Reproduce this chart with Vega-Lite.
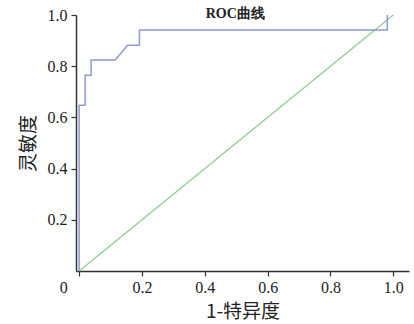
{
  "$schema": "https://vega.github.io/schema/vega-lite/v6.json",
  "autosize": "none",
  "width": 333,
  "height": 256,
  "padding": {"left": 76, "top": 15, "right": 5, "bottom": 53},
  "background": "white",
  "config": {
    "view": {"stroke": null},
    "axis": {
      "labelFont": "Liberation Serif",
      "labelFontSize": 16,
      "labelColor": "#222",
      "titleFont": "Noto Sans CJK SC",
      "titleFontSize": 19,
      "titleFontWeight": "normal",
      "titleColor": "#222",
      "domainColor": "#333",
      "domainWidth": 1.5,
      "tickColor": "#333",
      "tickWidth": 1.2,
      "tickSize": 5,
      "grid": false
    }
  },
  "datasets": {
    "roc": [
      {"fpr": 0, "tpr": 0, "k": 0},
      {"fpr": 0, "tpr": 0.647, "k": 1},
      {"fpr": 0.019, "tpr": 0.647, "k": 2},
      {"fpr": 0.019, "tpr": 0.765, "k": 3},
      {"fpr": 0.038, "tpr": 0.765, "k": 4},
      {"fpr": 0.038, "tpr": 0.824, "k": 5},
      {"fpr": 0.115, "tpr": 0.824, "k": 6},
      {"fpr": 0.154, "tpr": 0.882, "k": 7},
      {"fpr": 0.192, "tpr": 0.882, "k": 8},
      {"fpr": 0.192, "tpr": 0.941, "k": 9},
      {"fpr": 0.981, "tpr": 0.941, "k": 10},
      {"fpr": 0.981, "tpr": 1.0, "k": 11}
    ],
    "diag": [
      {"fpr": 0, "tpr": 0},
      {"fpr": 1, "tpr": 1}
    ],
    "label": [
      {"fpr": 0.497, "tpr": 1.0, "text": "ROC曲线"}
    ]
  },
  "layer": [
    {
      "data": {"name": "diag"},
      "mark": {"type": "line", "color": "#8fce8f", "strokeWidth": 1.3, "clip": false},
      "encoding": {
        "x": {
          "field": "fpr", "type": "quantitative",
          "scale": {"domain": [-0.01, 1.05], "nice": false, "zero": false},
          "axis": {
            "title": "1-特异度",
            "values": [0, 0.2, 0.4, 0.6, 0.8, 1.0],
            "labelExpr": "datum.value == 0 ? '0' : format(datum.value, '.1f')",
            "labelOffset": {"condition": {"test": "datum.value == 0", "value": -16}, "value": 0},
            "labelPadding": 3,
            "titlePadding": 7
          }
        },
        "y": {
          "field": "tpr", "type": "quantitative",
          "scale": {"domain": [0, 1.0], "nice": false},
          "axis": {
            "title": "灵敏度",
            "values": [0.2, 0.4, 0.6, 0.8, 1.0],
            "format": ".1f",
            "labelPadding": 4,
            "titlePadding": 9
          }
        }
      }
    },
    {
      "data": {"name": "roc"},
      "mark": {"type": "line", "color": "#8c9bd2", "strokeWidth": 1.5, "clip": false},
      "encoding": {
        "x": {"field": "fpr", "type": "quantitative"},
        "y": {"field": "tpr", "type": "quantitative"},
        "order": {"field": "k", "type": "quantitative"}
      }
    },
    {
      "data": {"name": "label"},
      "mark": {"type": "text", "font": "Liberation Serif", "fontSize": 14, "fontWeight": "bold", "color": "#222", "baseline": "middle", "align": "center", "dy": -1, "clip": false},
      "encoding": {
        "x": {"field": "fpr", "type": "quantitative"},
        "y": {"field": "tpr", "type": "quantitative"},
        "text": {"field": "text"}
      }
    }
  ]
}
